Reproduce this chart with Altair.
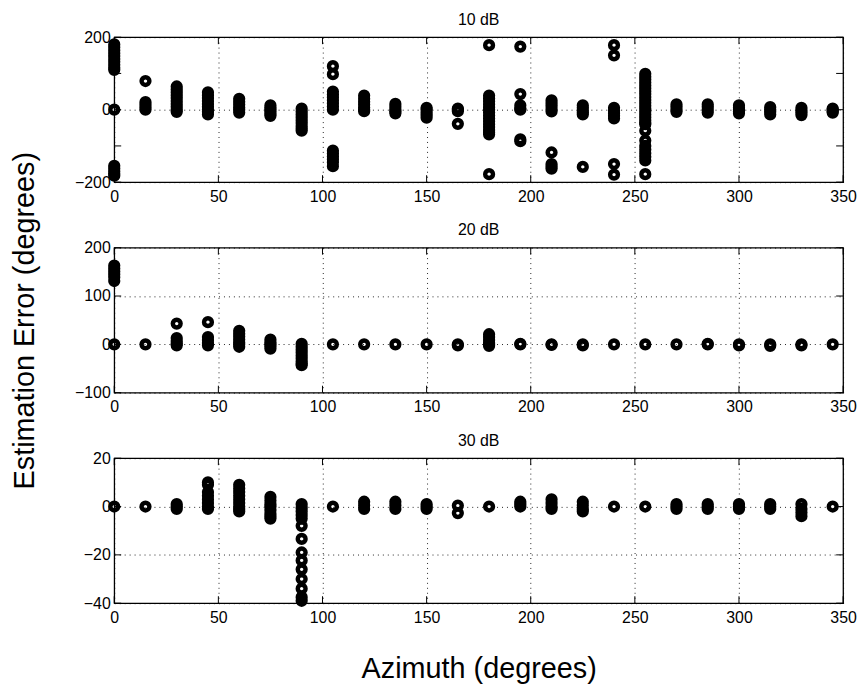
import altair as alt
import pandas as pd

azimuths = [0, 15, 30, 45, 60, 75, 90, 105, 120, 135, 150, 165,
            180, 195, 210, 225, 240, 255, 270, 285, 300, 315, 330, 345]

# Estimation errors (degrees) per azimuth, 10 dB
err_10dB = [
    [180, 172, 164, 156, 148, 140, 132, 124, 116, 110, 0, -155, -162, -170, -177, -182],
    [79, 21, 14, 7, 0],
    [64, 56, 48, 40, 32, 24, 16, 8, 0, -6],
    [48, 40, 32, 24, 16, 8, 0, -6, -13],
    [30, 22, 14, 6, 0, -8],
    [12, 5, 0, -6, -12, -17],
    [3, -5, -13, -21, -29, -37, -45, -52, -58],
    [120, 98, 50, 42, 34, 26, 18, 9, 0, -113, -121, -129, -137, -145, -156],
    [39, 30, 22, 14, 6, 0, -4],
    [16, 8, 0, -5, -10],
    [5, 0, -8, -15, -22],
    [3, 0, -4, -39],
    [178, 39, 31, 23, 15, 7, 0, -8, -16, -24, -32, -40, -48, -56, -62, -68, -178],
    [174, 43, 12, 3, 0, -82, -87],
    [26, 18, 10, 2, -5, -118, -150, -157, -163],
    [12, 5, -2, -8, -13, -158],
    [178, 150, 5, -3, -10, -17, -24, -150, -179],
    [99, 91, 83, 75, 67, 59, 51, 43, 35, 27, 19, 11, 3, -5, -13, -21, -29, -36,
     -40, -58, -85, -100, -110, -120, -130, -140, -178],
    [15, 8, 0, -6],
    [15, 8, 0, -8],
    [12, 5, 0, -5, -10],
    [7, 0, -6, -13],
    [5, -2, -8, -15],
    [3, 0, -4, -8],
]

# 20 dB
err_20dB = [
    [163, 157, 151, 145, 139, 131, 0],
    [0],
    [43, 13, 7, 2, -2],
    [46, 15, 9, 3, -2],
    [28, 22, 16, 10, 4, 0, -5],
    [10, 4, 0, -4, -9],
    [1, -5, -11, -17, -23, -29, -35, -40, -43],
    [0],
    [0],
    [0],
    [0],
    [0, -2],
    [21, 15, 9, 3, 0, -3],
    [0, 1],
    [0, -1],
    [0, -2],
    [0],
    [0],
    [0],
    [0, 1],
    [0, -2],
    [0, -3],
    [0, -2],
    [0],
]

# 30 dB
err_30dB = [
    [0],
    [0],
    [1, 0, -1],
    [10, 9, 6, 4.5, 3, 1.5, 0, -1],
    [9, 7.5, 6, 4.5, 3, 1.5, 0, -1, -2],
    [4, 2.5, 1, 0, -1.5, -3, -4, -5],
    [1, -0.5, -2, -3.5, -5, -8, -13.4, -19, -22.3, -26, -30, -34, -37.5, -39],
    [0],
    [2, 0.5, -1],
    [2, 0.5, -1],
    [1, 0, -1],
    [0.4, -2.7],
    [0],
    [2, 1, 0],
    [3, 1.5, 0, -1],
    [2, 0.5, -1, -2],
    [0],
    [0],
    [1, 0, -1],
    [1, 0, -1],
    [1, 0, -1],
    [1, 0, -1],
    [1, -1, -2.5, -4],
    [0],
]

panel_titles = ["10 dB", "20 dB", "30 dB"]
y_domains = [[-200, 200], [-100, 200], [-40, 20]]
y_ticks = [[-200, -100, 0, 100, 200], [-100, 0, 100, 200], [-40, -20, 0, 20]]
x_ticks = [0, 50, 100, 150, 200, 250, 300, 350]

W, H = 734, 146
TICK = 7


def to_long(errs):
    rows = []
    for az, vals in zip(azimuths, errs):
        for v in vals:
            rows.append({"az": az, "err": v})
    return pd.DataFrame(rows)


def panel(errs, title, ydom, yt, show_x_title, show_y_title):
    df = to_long(errs)
    xaxis = dict(values=x_ticks, labelFlush=False, labelPadding=6)
    yaxis = dict(values=yt, labelPadding=4)
    xscale = alt.Scale(domain=[0, 350], nice=False, zero=False)
    yscale = alt.Scale(domain=ydom, nice=False, zero=False)
    xt = "Azimuth (degrees)" if show_x_title else None
    ytt = "Estimation Error (degrees)" if show_y_title else None

    pts = alt.Chart(df).mark_point(
        shape="circle", filled=False, size=61, strokeWidth=4.5,
        color="black", opacity=1
    ).encode(
        x=alt.X("az:Q", scale=xscale, title=xt, axis=alt.Axis(**xaxis)),
        y=alt.Y("err:Q", scale=yscale, title=ytt, axis=alt.Axis(**yaxis)),
    )

    xt_df = pd.DataFrame({"az": x_ticks})
    yt_df = pd.DataFrame({"err": yt})
    rule_style = dict(color="black", strokeWidth=1)
    xb = alt.Chart(xt_df).mark_rule(**rule_style).encode(
        x="az:Q", y=alt.value(H), y2=alt.value(H - TICK))
    xtop = alt.Chart(xt_df).mark_rule(**rule_style).encode(
        x="az:Q", y=alt.value(0), y2=alt.value(TICK))
    yl = alt.Chart(yt_df).mark_rule(**rule_style).encode(
        y="err:Q", x=alt.value(0), x2=alt.value(TICK))
    yr = alt.Chart(yt_df).mark_rule(**rule_style).encode(
        y="err:Q", x=alt.value(W - TICK), x2=alt.value(W))

    ttl = alt.Chart(pd.DataFrame({"t": [title]})).mark_text(
        font="Liberation Sans", fontSize=16, color="black",
        align="center", baseline="alphabetic"
    ).encode(text="t:N", x=alt.value(W / 2), y=alt.value(-12.5))

    return alt.layer(pts, xb, xtop, yl, yr, ttl).properties(width=W, height=H)


p1 = panel(err_10dB, panel_titles[0], y_domains[0], y_ticks[0], False, False)
p2 = panel(err_20dB, panel_titles[1], y_domains[1], y_ticks[1], False, True)
p3 = panel(err_30dB, panel_titles[2], y_domains[2], y_ticks[2], True, False)

chart = alt.vconcat(p1, p2, p3, spacing=66, bounds="flush").properties(
    padding={"left": 2, "top": 0, "right": 0, "bottom": 0}
).configure_view(
    stroke="black", strokeWidth=1.3
).configure_axis(
    domain=False, grid=True, gridColor="black", gridDash=[1, 4], gridWidth=1,
    gridOpacity=0.85, tickSize=0, labelFont="Liberation Sans", labelFontSize=16,
    labelColor="black", titleFont="Liberation Sans", titleFontSize=29,
    titleFontWeight="normal", titleColor="black"
).configure_axisY(
    titlePadding=35
).configure_axisX(
    titlePadding=30
)

chart.save("out.html", embed_options={"renderer": "svg", "actions": False})
